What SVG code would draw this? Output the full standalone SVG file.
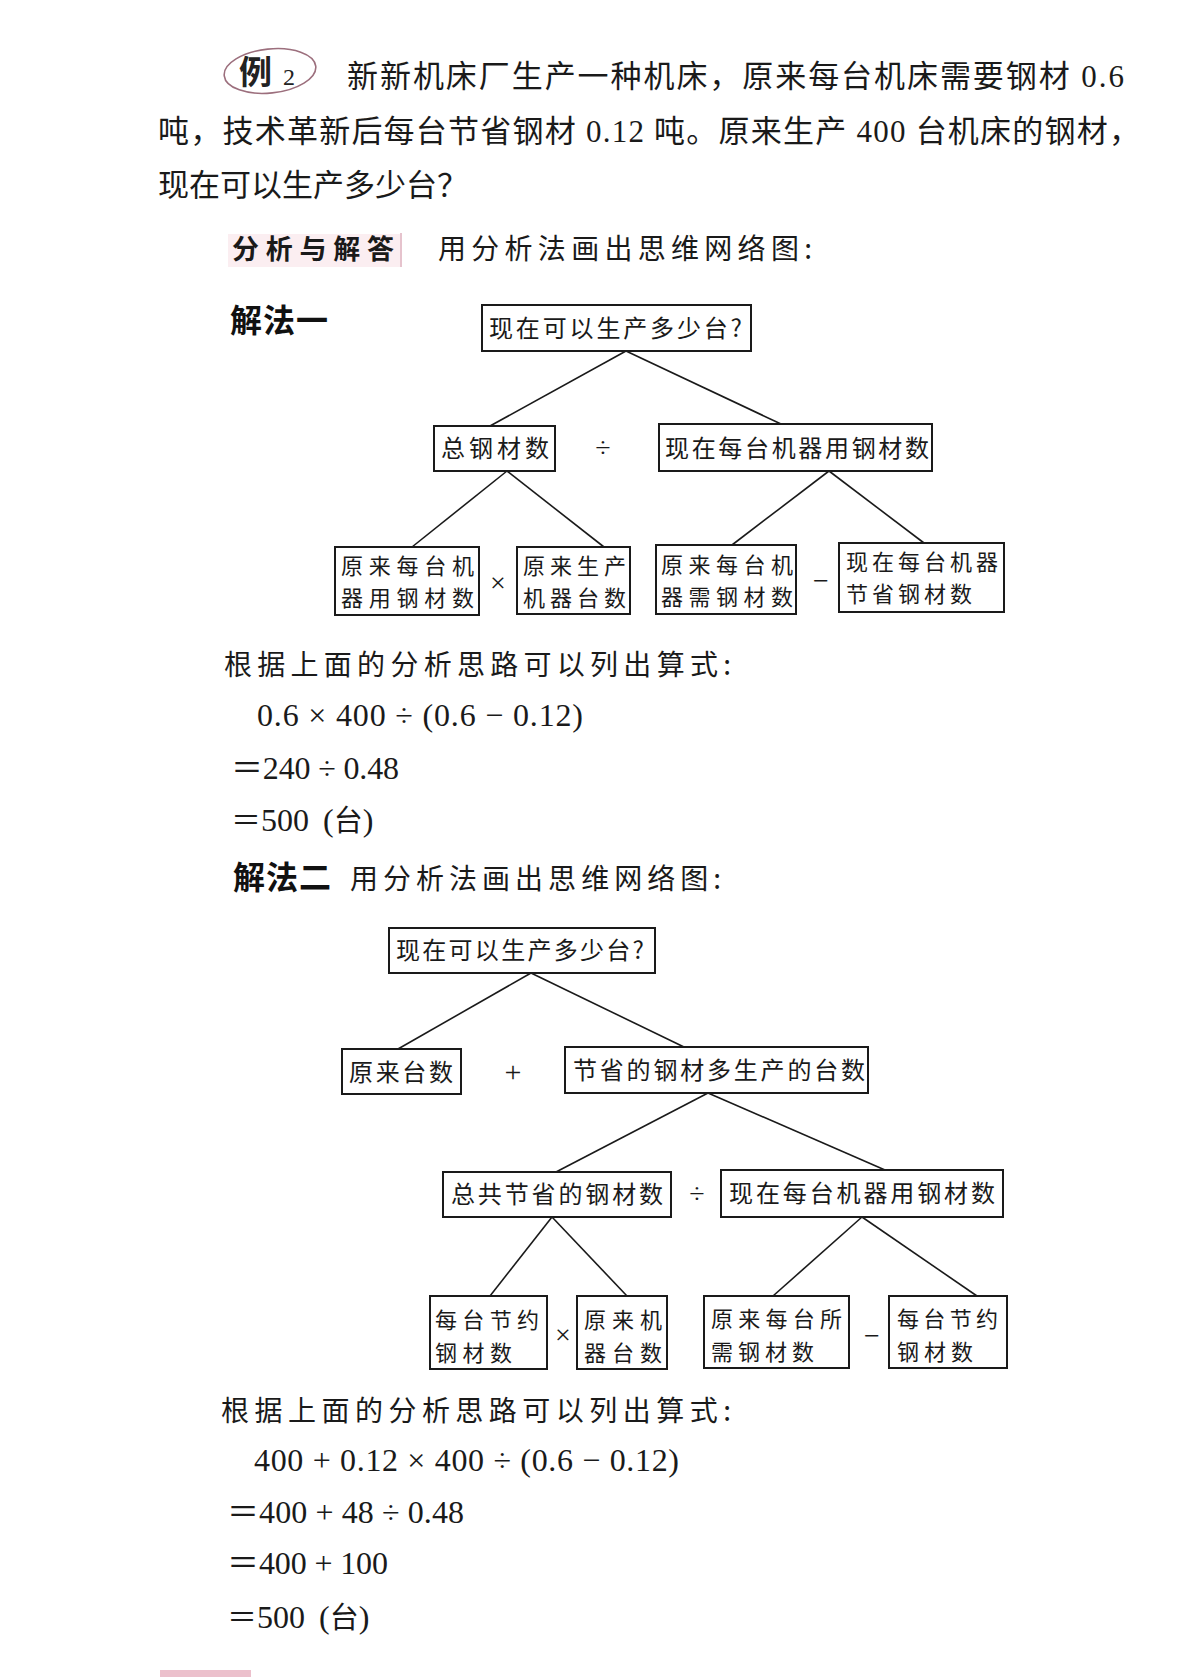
<svg xmlns="http://www.w3.org/2000/svg" width="1200" height="1677" viewBox="0 0 1200 1677">
<style>
  .bg{fill:#ffffff}
  .box{fill:#ffffff;stroke:#1a1a1a;stroke-width:2}
  .ln{stroke:#1a1a1a;stroke-width:1.6;fill:none}
  .bt{font-family:"Noto Sans CJK SC","Noto Sans CJK JP",sans-serif;font-size:24px;fill:#1a1a1a}
  .bt2{font-family:"Noto Sans CJK SC","Noto Sans CJK JP",sans-serif;font-size:22px;fill:#1a1a1a}
  .body{font-family:"Liberation Serif","Noto Sans CJK SC",serif;font-size:31px;fill:#1a1a1a}
  .sub{font-family:"Noto Sans CJK SC",sans-serif;font-size:28px;fill:#1a1a1a}
  .bold{font-family:"Noto Sans CJK SC",sans-serif;font-size:32px;font-weight:bold;fill:#111}
  .eq{font-family:"Liberation Serif","Noto Sans CJK SC",serif;font-size:32px;fill:#1a1a1a}
  .cj{font-family:"Noto Sans CJK SC",sans-serif}
  .op{font-family:"Liberation Serif","DejaVu Sans",serif;font-size:28px;fill:#1a1a1a;text-anchor:middle}
</style>
<rect class="bg" x="0" y="0" width="1200" height="1677"/>

<!-- header -->
<g id="example-label">
  <ellipse cx="270" cy="71" rx="46" ry="22" fill="none" stroke="#9c6f7d" stroke-width="1.6" transform="rotate(-6 270 71)"/>
  <text x="239" y="84" style="font-family:'Noto Sans CJK SC',sans-serif;font-size:33px;font-weight:bold;fill:#222">例</text>
  <text x="283" y="85" style="font-family:'Liberation Serif',serif;font-size:24px;fill:#222">2</text>
</g>
<g id="problem-text">
  <text class="body" x="347" y="87" textLength="777" lengthAdjust="spacing">新新机床厂生产一种机床，原来每台机床需要钢材 0.6</text>
  <text class="body" x="158" y="142" textLength="982" lengthAdjust="spacing">吨，技术革新后每台节省钢材 0.12 吨。原来生产 400 台机床的钢材，</text>
  <text class="body" x="158" y="196">现在可以生产多少台？</text>
</g>
<g id="analysis-label">
  <rect x="228" y="234" width="174" height="33" fill="#fbeef1"/>
  <line x1="401" y1="233" x2="401" y2="267" stroke="#e6c3cd" stroke-width="2"/>
  <text x="232" y="259" textLength="162" lengthAdjust="spacing" style="font-family:'Noto Sans CJK SC',sans-serif;font-size:27px;font-weight:bold;fill:#1a1a1a">分析与解答</text>
  <text class="sub" x="438" y="259" textLength="374" lengthAdjust="spacing">用分析法画出思维网络图:</text>
</g>
<text id="method1-title" class="bold" x="230" y="332" textLength="98" lengthAdjust="spacing">解法一</text>

<!-- connectors -->
<g id="connectors">
  <line class="ln" x1="626" y1="351" x2="490" y2="426"/>
  <line class="ln" x1="626" y1="351" x2="781" y2="424"/>
  <line class="ln" x1="507" y1="471" x2="412" y2="547"/>
  <line class="ln" x1="507" y1="471" x2="604" y2="547"/>
  <line class="ln" x1="829" y1="471" x2="732" y2="545"/>
  <line class="ln" x1="829" y1="471" x2="924" y2="543"/>

  <line class="ln" x1="531" y1="973" x2="398" y2="1049"/>
  <line class="ln" x1="531" y1="973" x2="684" y2="1047"/>
  <line class="ln" x1="708" y1="1093" x2="556" y2="1172"/>
  <line class="ln" x1="708" y1="1093" x2="885" y2="1170"/>
  <line class="ln" x1="552" y1="1217" x2="490" y2="1296"/>
  <line class="ln" x1="552" y1="1217" x2="627" y2="1296"/>
  <line class="ln" x1="862" y1="1217" x2="773" y2="1296"/>
  <line class="ln" x1="862" y1="1217" x2="977" y2="1296"/>
</g>

<!-- tree 1 -->
<g id="t1-root">
  <rect class="box" x="482" y="305" width="269" height="46"/>
  <text class="bt" x="489" y="337" textLength="253" lengthAdjust="spacing">现在可以生产多少台?</text>
</g>
<g id="t1-total-steel">
  <rect class="box" x="434" y="426" width="121" height="45"/>
  <text class="bt" x="441" y="457" textLength="108" lengthAdjust="spacing">总钢材数</text>
</g>
<g id="t1-now-per-machine">
  <rect class="box" x="659" y="424" width="273" height="47"/>
  <text class="bt" x="665" y="457" textLength="264" lengthAdjust="spacing">现在每台机器用钢材数</text>
</g>
<g id="t1-orig-per-machine">
  <rect class="box" x="335" y="547" width="144" height="68"/>
  <text class="bt2" x="341" y="574" textLength="133" lengthAdjust="spacing">原来每台机</text>
  <text class="bt2" x="341" y="606" textLength="133" lengthAdjust="spacing">器用钢材数</text>
</g>
<g id="t1-orig-count">
  <rect class="box" x="517" y="547" width="113" height="67"/>
  <text class="bt2" x="523" y="574" textLength="103" lengthAdjust="spacing">原来生产</text>
  <text class="bt2" x="523" y="606" textLength="103" lengthAdjust="spacing">机器台数</text>
</g>
<g id="t1-orig-need">
  <rect class="box" x="656" y="545" width="140" height="69"/>
  <text class="bt2" x="661" y="573" textLength="132" lengthAdjust="spacing">原来每台机</text>
  <text class="bt2" x="661" y="605" textLength="132" lengthAdjust="spacing">器需钢材数</text>
</g>
<g id="t1-now-saved">
  <rect class="box" x="839" y="543" width="165" height="69"/>
  <text class="bt2" x="846" y="570" textLength="152" lengthAdjust="spacing">现在每台机器</text>
  <text class="bt2" x="846" y="602" textLength="126" lengthAdjust="spacing">节省钢材数</text>
</g>
<g id="t1-operators">
  <text class="op" x="603" y="457">÷</text>
  <text class="op" x="498" y="592">×</text>
  <text class="op" x="821" y="590">−</text>
</g>

<!-- method 1 formula -->
<g id="formula1">
  <text class="sub" x="224" y="675" textLength="507" lengthAdjust="spacing">根据上面的分析思路可以列出算式:</text>
  <text class="eq" x="257" y="726" textLength="326" lengthAdjust="spacing">0.6 × 400 ÷ (0.6 − 0.12)</text>
  <text class="eq" x="231" y="779" textLength="168" lengthAdjust="spacing">＝240 ÷ 0.48</text>
  <text class="eq" x="231" y="831"><tspan class="cj" style="font-size:30px">＝</tspan>500 <tspan dx="6">(</tspan><tspan class="cj" style="font-size:29px">台</tspan>)</text>
</g>

<g id="method2-title">
  <text class="bold" x="233" y="889" textLength="98" lengthAdjust="spacing">解法二</text>
  <text class="sub" x="350" y="889" textLength="371" lengthAdjust="spacing">用分析法画出思维网络图:</text>
</g>

<!-- tree 2 -->
<g id="t2-root">
  <rect class="box" x="389" y="928" width="266" height="45"/>
  <text class="bt" x="396" y="959" textLength="248" lengthAdjust="spacing">现在可以生产多少台?</text>
</g>
<g id="t2-orig-count">
  <rect class="box" x="342" y="1049" width="119" height="45"/>
  <text class="bt" x="349" y="1081" textLength="104" lengthAdjust="spacing">原来台数</text>
</g>
<g id="t2-extra-count">
  <rect class="box" x="565" y="1047" width="303" height="46"/>
  <text class="bt" x="573" y="1079" textLength="292" lengthAdjust="spacing">节省的钢材多生产的台数</text>
</g>
<g id="t2-total-saved">
  <rect class="box" x="443" y="1172" width="228" height="45"/>
  <text class="bt" x="451" y="1203" textLength="212" lengthAdjust="spacing">总共节省的钢材数</text>
</g>
<g id="t2-now-per-machine">
  <rect class="box" x="721" y="1170" width="282" height="47"/>
  <text class="bt" x="729" y="1202" textLength="266" lengthAdjust="spacing">现在每台机器用钢材数</text>
</g>
<g id="t2-save-per-machine">
  <rect class="box" x="430" y="1296" width="117" height="73"/>
  <text class="bt2" x="435" y="1328" textLength="104" lengthAdjust="spacing">每台节约</text>
  <text class="bt2" x="435" y="1361" textLength="77" lengthAdjust="spacing">钢材数</text>
</g>
<g id="t2-orig-machines">
  <rect class="box" x="577" y="1296" width="90" height="73"/>
  <text class="bt2" x="584" y="1328" textLength="78" lengthAdjust="spacing">原来机</text>
  <text class="bt2" x="584" y="1361" textLength="78" lengthAdjust="spacing">器台数</text>
</g>
<g id="t2-orig-need">
  <rect class="box" x="704" y="1296" width="145" height="72"/>
  <text class="bt2" x="711" y="1327" textLength="131" lengthAdjust="spacing">原来每台所</text>
  <text class="bt2" x="711" y="1360" textLength="103" lengthAdjust="spacing">需钢材数</text>
</g>
<g id="t2-save-per-machine-2">
  <rect class="box" x="889" y="1296" width="118" height="72"/>
  <text class="bt2" x="897" y="1327" textLength="101" lengthAdjust="spacing">每台节约</text>
  <text class="bt2" x="897" y="1360" textLength="76" lengthAdjust="spacing">钢材数</text>
</g>
<g id="t2-operators">
  <text class="op" x="513" y="1082" style="font-size:30px">+</text>
  <text class="op" x="697" y="1203">÷</text>
  <text class="op" x="563" y="1344">×</text>
  <text class="op" x="872" y="1345">−</text>
</g>

<!-- method 2 formula -->
<g id="formula2">
  <text class="sub" x="221" y="1421" textLength="510" lengthAdjust="spacing">根据上面的分析思路可以列出算式:</text>
  <text class="eq" x="254" y="1471" textLength="425" lengthAdjust="spacing">400 + 0.12 × 400 ÷ (0.6 − 0.12)</text>
  <text class="eq" x="227" y="1523" textLength="237" lengthAdjust="spacing">＝400 + 48 ÷ 0.48</text>
  <text class="eq" x="227" y="1574" textLength="161" lengthAdjust="spacing">＝400 + 100</text>
  <text class="eq" x="227" y="1628"><tspan class="cj" style="font-size:30px">＝</tspan>500 <tspan dx="6">(</tspan><tspan class="cj" style="font-size:29px">台</tspan>)</text>
</g>

<rect x="160" y="1670" width="91" height="7" fill="#ecc0cc"/>
</svg>
